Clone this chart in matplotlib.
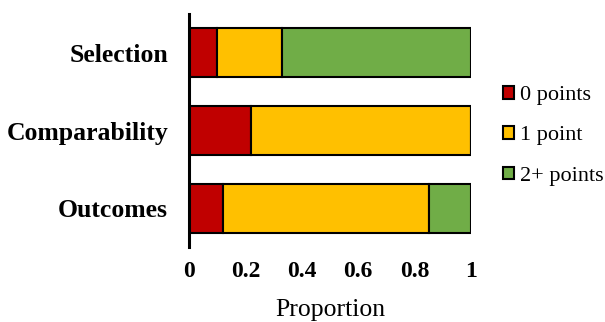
import matplotlib.pyplot as plt
import numpy as np

plt.rcParams['font.family'] = ['Liberation Serif', 'DejaVu Serif']

categories = ['Selection', 'Comparability', 'Outcomes']
zero_points = [0.10, 0.22, 0.12]
one_point = [0.23, 0.78, 0.73]
two_plus = [0.67, 0.00, 0.15]
series_names = ['0 points', '1 point', '2+ points']
colors = ['#C00000', '#FFC000', '#70AD47']
xticks = [0, 0.2, 0.4, 0.6, 0.8, 1]
xtick_labels = ['0', '0.2', '0.4', '0.6', '0.8', '1']

fig = plt.figure(figsize=(6.05, 3.22), dpi=100)
ax = fig.add_axes([0.3124, 0.2329, 0.4661, 0.7236])

y = np.arange(len(categories))
left = np.zeros(len(categories))
for vals, name, c in zip([zero_points, one_point, two_plus], series_names, colors):
    vals = np.array(vals)
    ax.barh(y, vals, left=left, height=0.63, color=c, edgecolor='black',
            linewidth=1.5, label=name)
    left += vals

ax.set_ylim(len(categories) - 0.5, -0.5)
ax.set_xlim(0, 1)
ax.set_yticks(y)
ax.set_yticklabels(categories, fontsize=18.5, fontweight='bold')
ax.set_xticks(xticks)
ax.set_xticklabels(xtick_labels, fontsize=17, fontweight='bold')
ax.tick_params(axis='y', length=0, pad=15)
ax.tick_params(axis='x', length=0, pad=10)
ax.set_xlabel('Proportion', fontsize=18.5, labelpad=12)

for s in ['top', 'right', 'bottom']:
    ax.spines[s].set_visible(False)
ax.spines['left'].set_linewidth(2.2)

fig.legend(loc='center left', bbox_to_anchor=(0.832, 0.578), frameon=False,
           fontsize=16, handlelength=0.5, handleheight=0.5,
           handletextpad=0.25, labelspacing=0.95, borderpad=0, borderaxespad=0)

fig.savefig('out.png', dpi=100)
